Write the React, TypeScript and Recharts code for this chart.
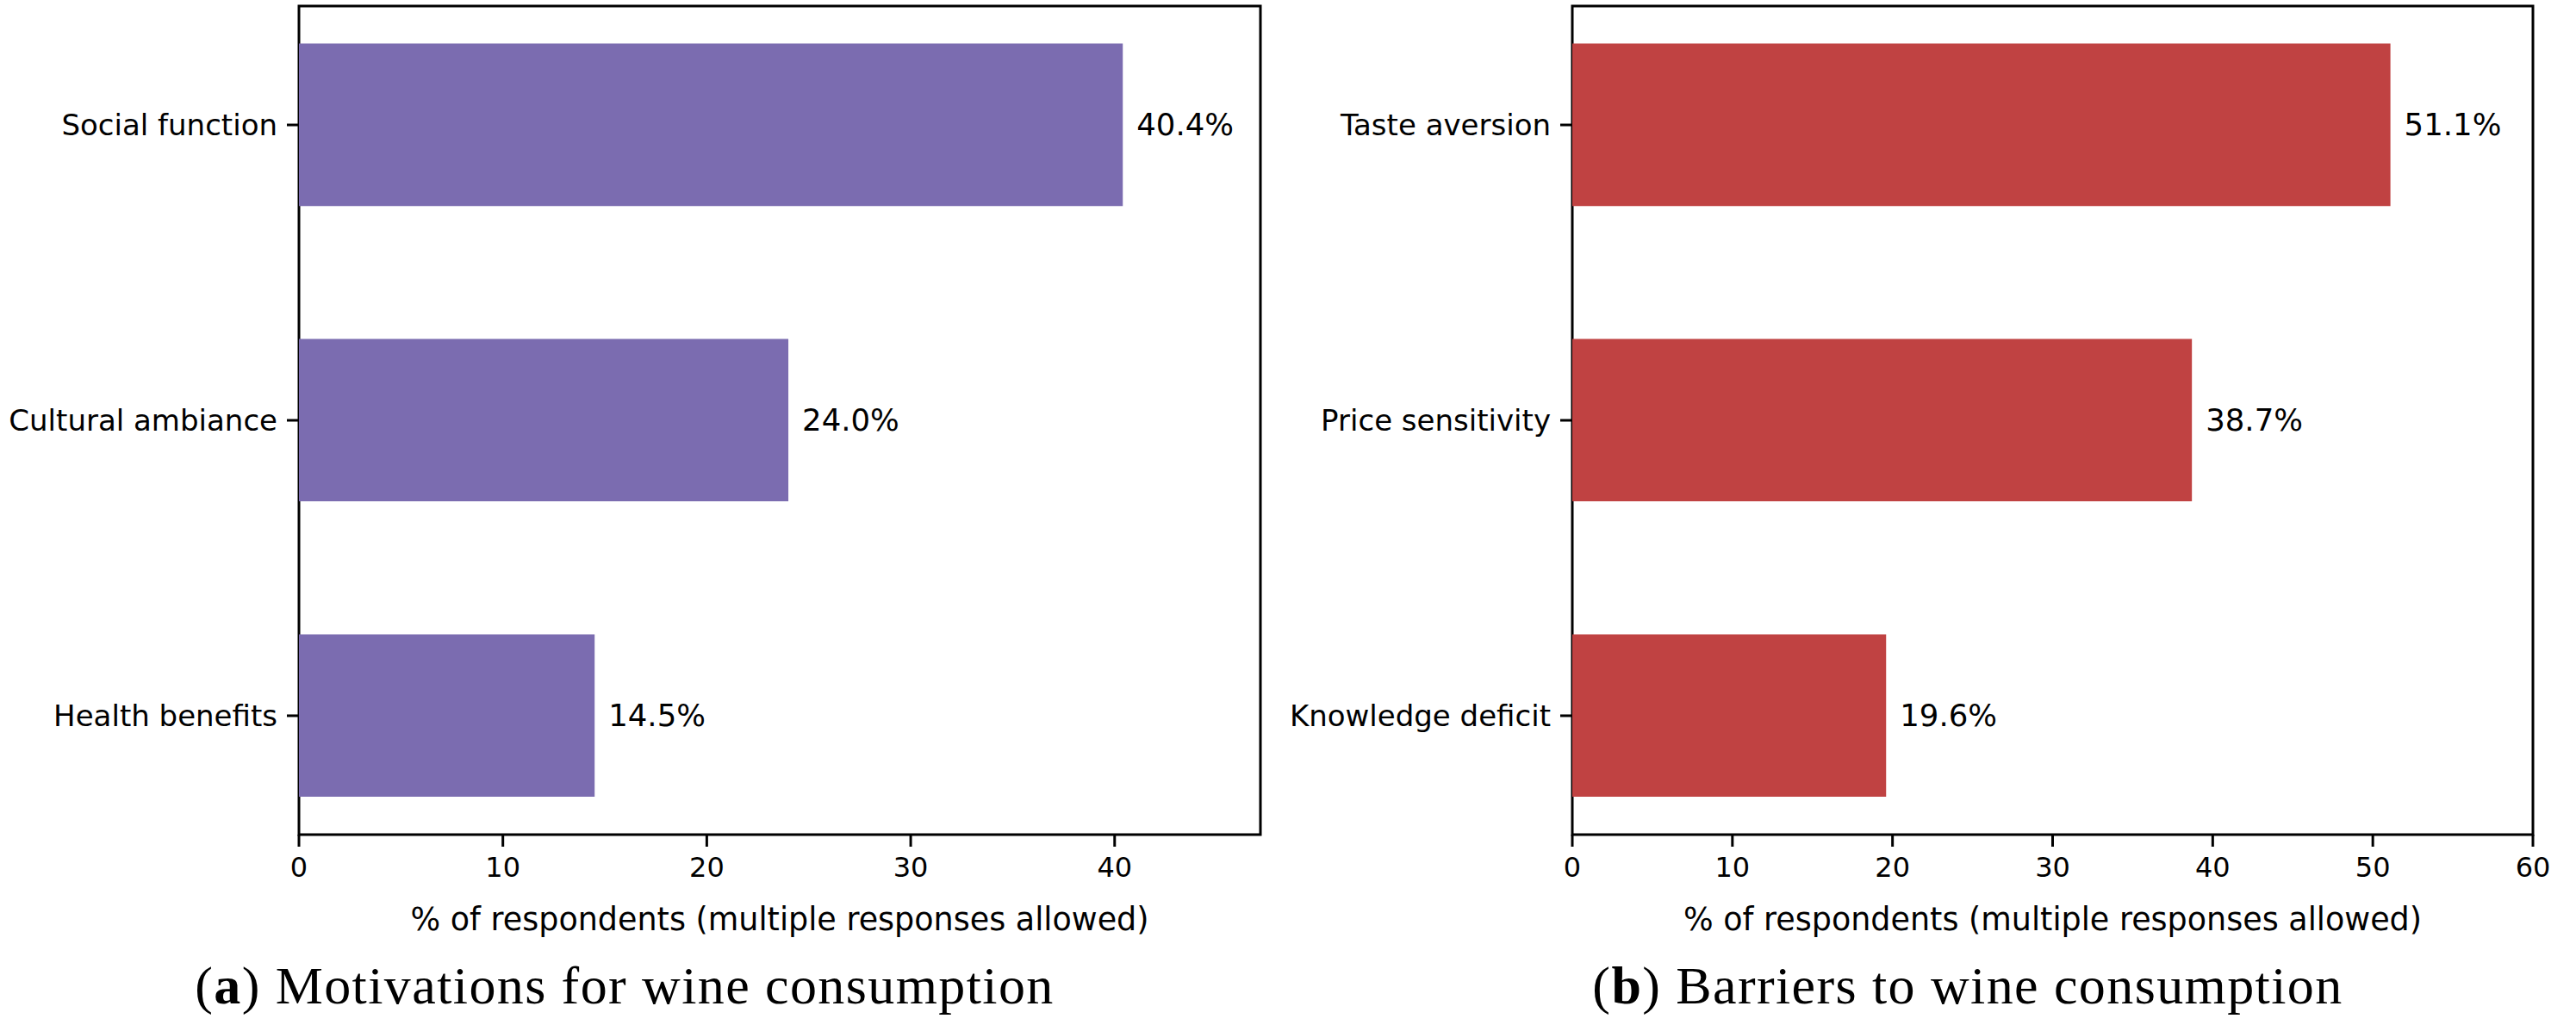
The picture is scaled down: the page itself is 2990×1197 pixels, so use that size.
import React from "react";
import {
  BarChart,
  Bar,
  XAxis,
  YAxis,
  LabelList,
  ReferenceArea,
} from "recharts";

// (a) motivations
const motivationLabels = ["Social function", "Cultural ambiance", "Health benefits"];
const motivationValues = [40.4, 24.0, 14.5];
const motivationTicks = [0, 10, 20, 30, 40];

// (b) barriers
const barrierLabels = ["Taste aversion", "Price sensitivity", "Knowledge deficit"];
const barrierValues = [51.1, 38.7, 19.6];
const barrierTicks = [0, 10, 20, 30, 40, 50, 60];

const xLabel = "% of respondents (multiple responses allowed)";

const FONT = "DejaVu Sans";
// category positions 0..n-1, bars 0.55 tall, 5% margins like matplotlib
const Y_DOMAIN: [number, number] = [-0.4025, 2.4025];

type PanelProps = {
  labels: string[];
  values: number[];
  ticks: number[];
  xMax: number;
  color: string;
  left: number;
  width: number;
  yAxisWidth: number;
  rightMargin: number;
};

function Panel({
  labels,
  values,
  ticks,
  xMax,
  color,
  left,
  width,
  yAxisWidth,
  rightMargin,
}: PanelProps) {
  const rows = labels.map((name, i) => ({ idx: i, name, value: values[i] }));

  return (
    <div style={{ position: "absolute", left, top: 0 }}>
      <BarChart
        width={width}
        height={1197}
        data={rows}
        layout="vertical"
        margin={{ top: 7, right: rightMargin, bottom: 0, left: 0 }}
      >
        <XAxis
          type="number"
          dataKey="value"
          domain={[0, xMax]}
          ticks={ticks}
          allowDataOverflow
          height={228}
          axisLine={false}
          tickSize={14}
          tickMargin={12}
          tickLine={{ stroke: "#000", strokeWidth: 3 }}
          tick={{ fontSize: 32, fill: "#000", fontFamily: FONT }}
          label={{
            content: ({ viewBox }: any) => (
              <text
                x={viewBox.x + viewBox.width / 2}
                y={viewBox.y + 111}
                textAnchor="middle"
                fontSize={36.5}
                fontFamily={FONT}
                fill="#000"
              >
                {xLabel}
              </text>
            ),
          }}
        />
        <YAxis
          type="number"
          dataKey="idx"
          domain={Y_DOMAIN}
          ticks={[0, 1, 2]}
          allowDataOverflow
          width={yAxisWidth}
          axisLine={false}
          tickSize={14}
          tickMargin={11}
          tickLine={{ stroke: "#000", strokeWidth: 3 }}
          tick={{ fontSize: 34, fill: "#000", fontFamily: FONT }}
          tickFormatter={(v: number) => labels[v] ?? ""}
        />
        <Bar dataKey="value" fill={color} barSize={188.6} isAnimationActive={false}>
          <LabelList
            dataKey="value"
            position="right"
            offset={16}
            formatter={(v: any) => `${Number(v).toFixed(1)}%`}
            style={{ fontSize: 35.5, fill: "#000", fontFamily: FONT }}
          />
        </Bar>
        <ReferenceArea
          x1={0}
          x2={xMax}
          y1={Y_DOMAIN[0]}
          y2={Y_DOMAIN[1]}
          fill="none"
          fillOpacity={0}
          stroke="#000"
          strokeWidth={3}
          ifOverflow="visible"
        />
      </BarChart>
    </div>
  );
}

export default function App() {
  return (
    <div
      style={{
        position: "absolute",
        left: 0,
        top: 0,
        width: 2990,
        height: 1197,
        background: "#fff",
      }}
    >
      <Panel
        labels={motivationLabels}
        values={motivationValues}
        ticks={motivationTicks}
        xMax={47.15}
        color="#7B6CB0"
        left={0}
        width={1490}
        yAxisWidth={347}
        rightMargin={27}
      />
      <Panel
        labels={barrierLabels}
        values={barrierValues}
        ticks={barrierTicks}
        xMax={60}
        color="#C04242"
        left={1490}
        width={1500}
        yAxisWidth={335}
        rightMargin={50}
      />
      <svg
        width={2990}
        height={1197}
        style={{ position: "absolute", left: 0, top: 0, pointerEvents: "none" }}
      >
        <text
          x={725}
          y={1165}
          textAnchor="middle"
          fontSize={62}
          fontFamily="Liberation Serif"
          letterSpacing={1.4}
          fill="#000"
        >
          (<tspan fontWeight="bold">a</tspan>) Motivations for wine consumption
        </text>
        <text
          x={2284}
          y={1165}
          textAnchor="middle"
          fontSize={62}
          fontFamily="Liberation Serif"
          letterSpacing={1.4}
          fill="#000"
        >
          (<tspan fontWeight="bold">b</tspan>) Barriers to wine consumption
        </text>
      </svg>
    </div>
  );
}
